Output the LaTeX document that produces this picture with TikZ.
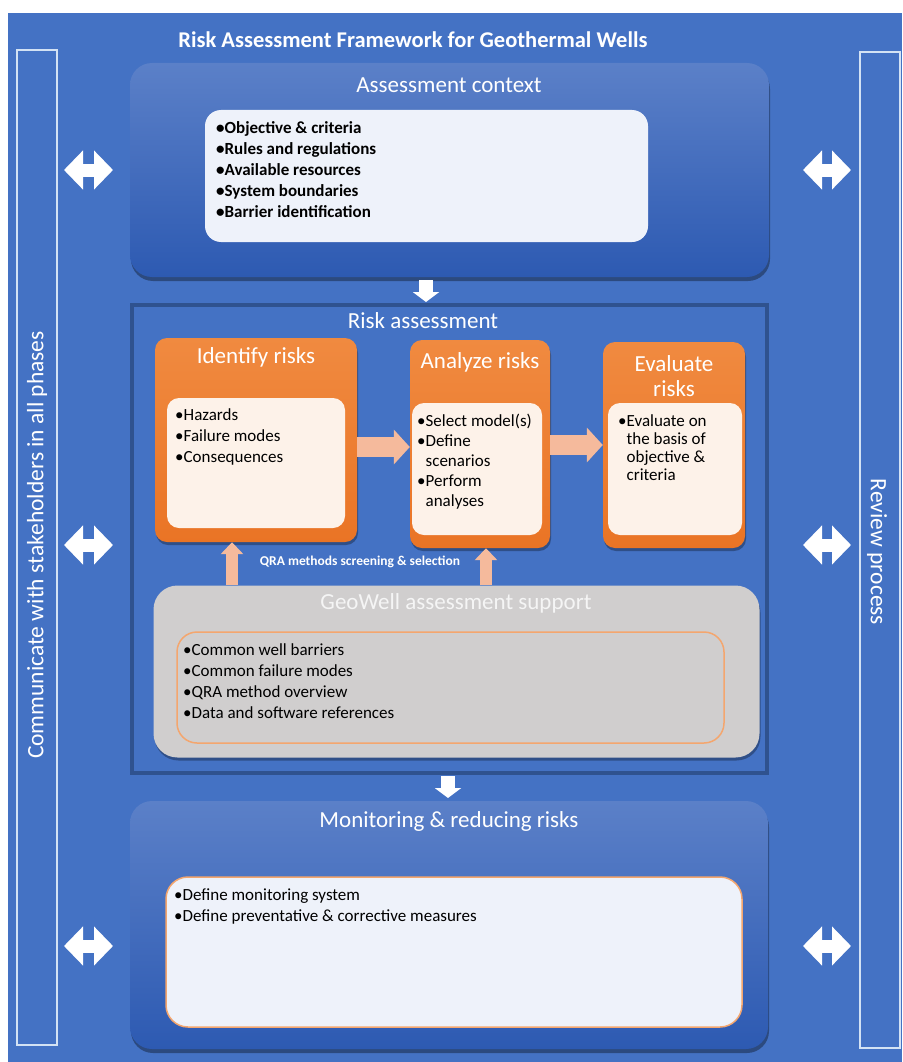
\documentclass[tikz,border=0pt]{standalone}
\usepackage{fontspec}
\setmainfont{Carlito}
\usetikzlibrary{arrows.meta,shadows,calc}
\definecolor{bgblue}{HTML}{4472C4}
\definecolor{boxtop}{HTML}{5B80C8}
\definecolor{boxbot}{HTML}{2D5AB2}
\definecolor{rborder}{HTML}{2F528F}
\definecolor{orangetop}{HTML}{F08A40}
\definecolor{orangebot}{HTML}{EA7425}
\definecolor{cream}{HTML}{FDF2E9}
\definecolor{peach}{HTML}{F5BA9C}
\definecolor{greybox}{HTML}{D0CECE}
\definecolor{paleblue}{HTML}{EEF2FA}
\definecolor{lineorange}{HTML}{F4A66E}
\definecolor{sideline}{HTML}{D3E2F4}
\newcommand{\fsz}[2]{\fontsize{#1}{#2}\selectfont}
\begin{document}
\begin{tikzpicture}[x=1pt,y=-1pt,
  bigbox/.style={rounded corners=22pt, top color=boxtop, bottom color=boxbot, draw=none,
    drop shadow={shadow xshift=1pt, shadow yshift=-4pt, opacity=0.35, fill=black}},
  orangebox/.style={rounded corners=12pt, top color=orangetop, bottom color=orangebot, draw=none,
    drop shadow={shadow xshift=1pt, shadow yshift=-3pt, opacity=0.3, fill=black}},
  creambox/.style={rounded corners=12pt, fill=cream, draw=none},
  sidebox/.style={draw=sideline, line width=1.8pt, fill=none, minimum width=40pt},
  titletext/.style={text=white, font=\fsz{23}{25}, inner sep=0pt},
  bullets/.style={anchor=north west, inner sep=0pt, align=left, text=black, font=\fsz{17}{21}},
  sidearrow/.style={draw=white, line width=13pt, {Triangle[length=19pt,width=38pt]}-{Triangle[length=19pt,width=38pt]}},
  downarrow/.style={draw=white, line width=14pt, -{Triangle[length=10pt,width=26pt]}},
  peacharrow/.style={draw=peach, line width=20pt, -{Triangle[length=16pt,width=34pt]}},
  peachup/.style={draw=peach, line width=12pt, -{Triangle[length=12pt,width=22pt]}},
]
\useasboundingbox (0,0) rectangle (902,1062);
\fill[white] (0,0) rectangle (902,1062);
\fill[bgblue] (8,13) rectangle (902,1062);

% title
\node[text=white, font=\bfseries\fsz{22.5}{24}, inner sep=0pt] (maintitle) at (413,40) {Risk Assessment Framework for Geothermal Wells};

% side boxes
\node[sidebox, minimum height=995pt] (lbox) at (37,547.5) {};
\node[text=white, rotate=90, font=\fsz{23.5}{25}, inner sep=0pt] (ltext) at (37,545) {Communicate with stakeholders in all phases};
\node[sidebox, minimum height=996pt] (rbox) at (880,550) {};
\node[text=white, rotate=-90, font=\fsz{23.5}{25}, inner sep=0pt] (rtext) at (877,552) {Review process};

% assessment context
\node[bigbox, minimum width=639pt, minimum height=214pt] (ctx) at (449.5,170) {};
\node[titletext] (ctxtitle) at (449,85) {Assessment context};
\node[rounded corners=16pt, fill=paleblue, minimum width=443pt, minimum height=132pt] (ctxin) at (426.5,176) {};
\node[bullets, font=\bfseries\fsz{17}{21}] (ctxlist) at (216,121) {•Objective \& criteria\\•Rules and regulations\\•Available resources\\•System boundaries\\•Barrier identification};

% risk assessment frame
\node[draw=rborder, line width=4pt, fill=bgblue, minimum width=635pt, minimum height=468pt] (risk) at (449.5,539) {};
\node[titletext] (risktitle) at (423,321) {Risk assessment};

% identify
\node[orangebox, minimum width=202pt, minimum height=204pt] (ident) at (256,440) {};
\node[titletext] (identtitle) at (256,357) {Identify risks};
\node[creambox, minimum width=178pt, minimum height=130pt] (identin) at (256,463) {};
\node[bullets] (identlist) at (175,408) {•Hazards\\•Failure modes\\•Consequences};

% analyze
\node[orangebox, minimum width=140pt, minimum height=208pt] (analyze) at (480,444) {};
\node[titletext] (analyzetitle) at (480,362) {Analyze risks};
\node[creambox, minimum width=130pt, minimum height=132pt] (analyzein) at (477,469) {};
\node[bullets, font=\fsz{17}{20}] (analyzelist) at (417,414) {•Select model(s)\\•Define\\\hphantom{•}scenarios\\•Perform\\\hphantom{•}analyses};

% evaluate
\node[orangebox, minimum width=142pt, minimum height=206pt] (evaluate) at (674,445) {};
\node[titletext, align=center, font=\fsz{23}{25}] (evaltitle) at (674,376) {Evaluate\\risks};
\node[creambox, minimum width=134pt, minimum height=132pt] (evaluatein) at (675,469) {};
\node[bullets, font=\fsz{17}{18}] (evallist) at (618,414) {•Evaluate on\\\hphantom{•}the basis of\\\hphantom{•}objective \&\\\hphantom{•}criteria};

% peach arrows
\coordinate (pa) at (0,447);
\coordinate (pb) at (0,445);
\draw[peacharrow] (ident.east |- pa) -- (analyze.west |- pa);
\draw[peacharrow] (analyze.east |- pb) -- (evaluate.west |- pb);

% geowell
\node[rounded corners=24pt, fill=greybox, minimum width=606pt, minimum height=172pt,
  drop shadow={shadow xshift=1pt, shadow yshift=-3pt, opacity=0.3, fill=black}] (geo) at (456.5,671.5) {};
\node[titletext, text=white!96!black] (geotitle) at (456,603) {GeoWell assessment support};
\node[rounded corners=20pt, draw=lineorange, line width=1.5pt, minimum width=547pt, minimum height=111pt] (geoin) at (450.5,687.5) {};
\node[bullets] (geolist) at (183,643) {•Common well barriers\\•Common failure modes\\•QRA method overview\\•Data and software references};

% up arrows
\coordinate (ua) at (232,0);
\coordinate (ub) at (486,0);
\draw[peachup] (geo.north -| ua) -- (ident.south -| ua);
\draw[peachup] (geo.north -| ub) -- (analyze.south -| ub);
\node[text=white, font=\bfseries\fsz{13.5}{15}, inner sep=0pt] (qra) at (360,562) {QRA methods screening \& selection};

% monitoring
\node[bigbox, minimum width=638pt, minimum height=248pt] (mon) at (449,925) {};
\node[titletext] (montitle) at (449,821) {Monitoring \& reducing risks};
\node[rounded corners=22pt, fill=paleblue, draw=lineorange, line width=1.5pt, minimum width=576pt, minimum height=150pt] (monin) at (454,952) {};
\node[bullets] (monlist) at (174,889) {•Define monitoring system\\•Define preventative \& corrective measures};

% down arrows
\coordinate (d1a) at (426,280);
\coordinate (d1b) at (426,302);
\draw[downarrow] (d1a) -- (d1b);
\coordinate (d2a) at (448,776);
\coordinate (d2b) at (448,798);
\draw[downarrow] (d2a) -- (d2b);

% side double arrows
\foreach \yy/\nm in {170/a,545/b,946/c}{
  \coordinate (ls\nm) at (64,\yy);
  \coordinate (le\nm) at (113,\yy);
  \coordinate (rs\nm) at (803,\yy);
  \coordinate (re\nm) at (851,\yy);
  \draw[sidearrow] (ls\nm) -- (le\nm);
  \draw[sidearrow] (rs\nm) -- (re\nm);
}
\end{tikzpicture}
\end{document}
